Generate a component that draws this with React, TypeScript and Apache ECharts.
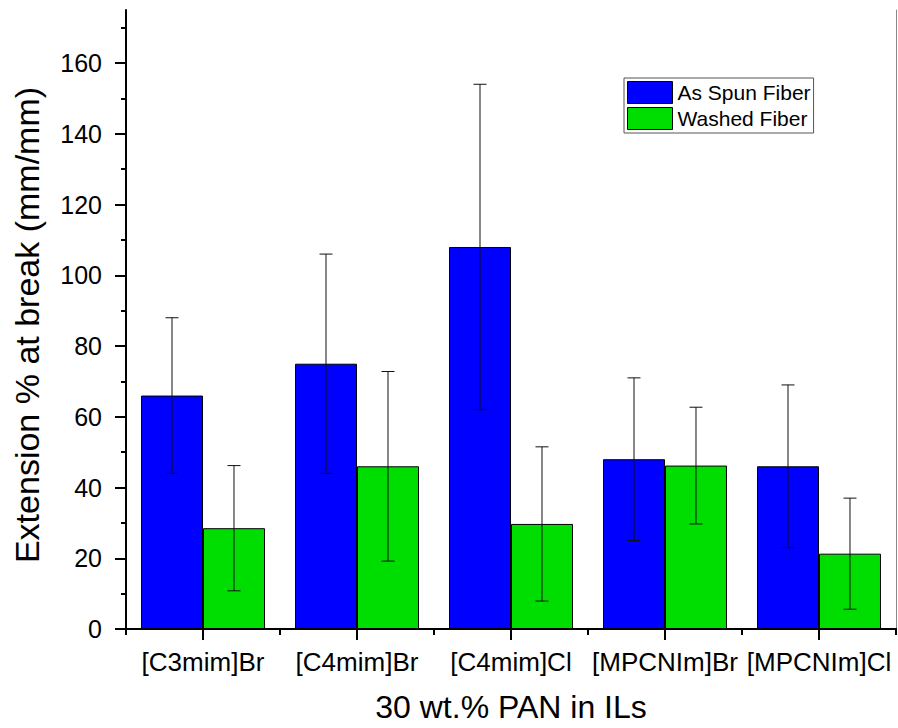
import React, { useEffect, useRef } from "react";
import * as echarts from "echarts";

const categories = ["[C3mim]Br", "[C4mim]Br", "[C4mim]Cl", "[MPCNIm]Br", "[MPCNIm]Cl"];
const asSpun = [66, 75, 108, 48, 46];
const asSpunErr = [22, 31, 46, 23, 23];
const washed = [28.5, 46, 29.7, 46.2, 21.3];
const washedErr = [17.7, 26.8, 21.8, 16.5, 15.7];
const yMajorTicks = [0, 20, 40, 60, 80, 100, 120, 140, 160];
const yMinorTicks = [10, 30, 50, 70, 90, 110, 130, 150, 170];
const seriesNames = ["As Spun Fiber", "Washed Fiber"];

const FONT = "'Liberation Sans', Arial, sans-serif";
const GAP = 0.195;

function errorSeries(values: number[], errs: number[], side: number) {
  return {
    type: "custom",
    xAxisIndex: 0,
    yAxisIndex: 0,
    z: 10,
    silent: true,
    data: values.map((v, i) => [i, v, errs[i]]),
    encode: { x: 0, y: 1 },
    renderItem: (params: any, api: any) => {
      const idx = api.value(0);
      const v = api.value(1);
      const e = api.value(2);
      const c = api.coord([idx, v]);
      const catW = api.size([1, 0])[0];
      const bw = (catW * (1 - GAP)) / 2;
      const x = c[0] + (side * bw) / 2;
      const top = api.coord([idx, v + e])[1];
      const bot = api.coord([idx, v - e])[1];
      const cap = 6.5;
      const style = { stroke: "#111", lineWidth: 1 };
      return {
        type: "group",
        children: [
          { type: "line", shape: { x1: x, y1: top, x2: x, y2: bot }, style },
          { type: "line", shape: { x1: x - cap, y1: top, x2: x + cap, y2: top }, style },
          { type: "line", shape: { x1: x - cap, y1: bot, x2: x + cap, y2: bot }, style },
        ],
      };
    },
  };
}

export default function App() {
  const ref = useRef<HTMLDivElement>(null);
  useEffect(() => {
    document.body.style.margin = "0";
    const chart = echarts.init(ref.current!, null, { renderer: "svg" });
    chart.setOption({
      animation: false,
      backgroundColor: "#fff",
      textStyle: { fontFamily: FONT },
      grid: { left: 126, right: 2, top: 10, bottom: 95 },
      legend: {
        data: seriesNames,
        orient: "vertical",
        left: 624,
        top: 78,
        padding: [3, 3, 3, 3],
        itemGap: 3,
        itemWidth: 45,
        itemHeight: 22,
        icon: "rect",
        borderColor: "#555",
        borderWidth: 1,
        itemStyle: { borderColor: "#000", borderWidth: 1 },
        textStyle: { fontSize: 21, color: "#000", fontFamily: FONT },
      },
      xAxis: [
        {
          type: "category",
          data: categories,
          position: "bottom",
          axisLine: { show: true, lineStyle: { color: "#000", width: 2 } },
          axisTick: { show: true, alignWithLabel: true, length: 11, lineStyle: { color: "#000", width: 2 } },
          axisLabel: { fontSize: 26, color: "#000", margin: 20, fontFamily: FONT, interval: 0 },
          name: "30 wt.% PAN in ILs",
          nameLocation: "middle",
          nameGap: 62,
          nameTextStyle: { fontSize: 32, color: "#000", fontFamily: FONT },
          splitLine: { show: false },
        },
        {
          type: "category",
          data: categories,
          position: "bottom",
          axisLine: { show: false },
          axisTick: { show: true, length: 6, lineStyle: { color: "#000", width: 2 } },
          axisLabel: { show: false },
          splitLine: { show: false },
        },
        {
          type: "category",
          data: categories,
          position: "top",
          axisLine: { show: true, lineStyle: { color: "#000", width: 2 } },
          axisTick: { show: false },
          axisLabel: { show: false },
          splitLine: { show: false },
        },
      ],
      yAxis: [
        {
          type: "value",
          min: 0,
          max: 175,
          interval: 10,
          position: "left",
          axisLine: { show: true, lineStyle: { color: "#000", width: 2 } },
          axisTick: { show: true, length: 11, customValues: yMajorTicks, lineStyle: { color: "#000", width: 2 } },
          axisLabel: { fontSize: 25, color: "#000", margin: 24, fontFamily: FONT, customValues: yMajorTicks },
          splitLine: { show: false },
          name: "Extension % at break (mm/mm)",
          nameLocation: "middle",
          nameGap: 82,
          nameTextStyle: { fontSize: 34, color: "#000", fontFamily: FONT, padding: [0, 11, 0, 0] },
        },
        {
          type: "value",
          min: 0,
          max: 175,
          interval: 10,
          position: "left",
          axisLine: { show: false },
          axisTick: { show: true, length: 5, customValues: yMinorTicks, lineStyle: { color: "#000", width: 2 } },
          axisLabel: { show: false },
          splitLine: { show: false },
        },
        {
          type: "value",
          min: 0,
          max: 175,
          position: "right",
          axisLine: { show: true, lineStyle: { color: "#888", width: 1 } },
          axisTick: { show: false },
          axisLabel: { show: false },
          splitLine: { show: false },
        },
      ],
      series: [
        {
          name: seriesNames[0],
          type: "bar",
          xAxisIndex: 0,
          yAxisIndex: 0,
          data: asSpun,
          barGap: "0%",
          barCategoryGap: GAP * 100 + "%",
          itemStyle: { color: "#0000ff", borderColor: "#000", borderWidth: 1 },
        },
        {
          name: seriesNames[1],
          type: "bar",
          xAxisIndex: 0,
          yAxisIndex: 0,
          data: washed,
          barGap: "0%",
          barCategoryGap: GAP * 100 + "%",
          itemStyle: { color: "#00dd00", borderColor: "#000", borderWidth: 1 },
        },
        errorSeries(asSpun, asSpunErr, -1),
        errorSeries(washed, washedErr, 1),
      ],
    });
    return () => chart.dispose();
  }, []);
  return <div ref={ref} style={{ width: 898, height: 728 }} />;
}
